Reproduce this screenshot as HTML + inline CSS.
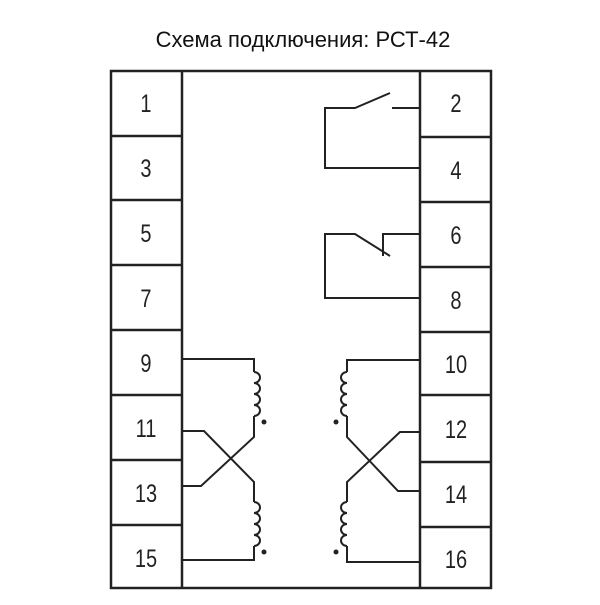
<!DOCTYPE html>
<html><head><meta charset="utf-8"><style>
body{margin:0;background:#fff;width:600px;height:600px;overflow:hidden}
svg text{font-family:"Liberation Sans",sans-serif}
</style></head><body>
<svg width="600" height="600" viewBox="0 0 600 600" xmlns="http://www.w3.org/2000/svg">
<text x="303" y="47" font-size="22" text-anchor="middle" fill="#111">Схема подключения: РСТ-42</text>
<g stroke="#222" fill="none" stroke-width="2.5">
<rect x="111" y="71" width="380" height="517"/>
<line x1="182" y1="71" x2="182" y2="588"/>
<line x1="420" y1="71" x2="420" y2="588"/>
<line x1="111" y1="136" x2="182" y2="136"/><line x1="111" y1="200" x2="182" y2="200"/>
<line x1="111" y1="265" x2="182" y2="265"/><line x1="111" y1="330" x2="182" y2="330"/>
<line x1="111" y1="395" x2="182" y2="395"/><line x1="111" y1="460" x2="182" y2="460"/>
<line x1="111" y1="525" x2="182" y2="525"/>
<line x1="420" y1="137" x2="491" y2="137"/><line x1="420" y1="202" x2="491" y2="202"/>
<line x1="420" y1="267" x2="491" y2="267"/><line x1="420" y1="332" x2="491" y2="332"/>
<line x1="420" y1="395" x2="491" y2="395"/><line x1="420" y1="462" x2="491" y2="462"/>
<line x1="420" y1="527" x2="491" y2="527"/>
</g>
<g stroke="#222" fill="none" stroke-width="2">
<polyline points="390,93 355,108 325,108 325,168 420,168"/>
<line x1="392" y1="108" x2="420" y2="108"/>
<polyline points="390,256 355,234 325,234 325,298 420,298"/>
<polyline points="383,256 383,234 420,234"/>
<polyline points="182,359 254,359 254,372"/>
<path d="M254,372 a6,5.5 0 0 1 0,11 a6,5.5 0 0 1 0,11 a6,5.5 0 0 1 0,11 a6,5.5 0 0 1 0,11"/>
<polyline points="254,416 254,437 201,486 182,486"/>
<polyline points="182,431 204,431 254,482 254,502"/>
<path d="M254,502 a6,5.5 0 0 1 0,11 a6,5.5 0 0 1 0,11 a6,5.5 0 0 1 0,11 a6,5.5 0 0 1 0,11"/>
<polyline points="254,546 254,560 182,560"/>
<polyline points="420,360 347,360 347,372"/>
<path d="M347,372 a6,5.5 0 0 0 0,11 a6,5.5 0 0 0 0,11 a6,5.5 0 0 0 0,11 a6,5.5 0 0 0 0,11"/>
<polyline points="347,416 347,437 398,491 420,491"/>
<polyline points="420,432 400,432 347,482 347,502"/>
<path d="M347,502 a6,5.5 0 0 0 0,11 a6,5.5 0 0 0 0,11 a6,5.5 0 0 0 0,11 a6,5.5 0 0 0 0,11"/>
<polyline points="347,546 347,562 420,562"/>
</g>
<g fill="#222">
<circle cx="264" cy="422" r="2.5"/><circle cx="264" cy="552" r="2.5"/>
<circle cx="336" cy="422" r="2.5"/><circle cx="336" cy="552" r="2.5"/>
</g>
<g font-size="25" fill="#222" text-anchor="middle" transform="scale(0.8,1)">
<text x="182.5" y="112">1</text><text x="182.5" y="177">3</text><text x="182.5" y="242">5</text>
<text x="182.5" y="307">7</text><text x="182.5" y="372">9</text><text x="182.5" y="437">11</text>
<text x="182.5" y="502">13</text><text x="182.5" y="567">15</text>
<text x="570" y="112">2</text><text x="570" y="179">4</text><text x="570" y="244">6</text>
<text x="570" y="309">8</text><text x="570" y="373">10</text><text x="570" y="438">12</text>
<text x="570" y="503">14</text><text x="570" y="568">16</text>
</g>
</svg>
</body></html>
